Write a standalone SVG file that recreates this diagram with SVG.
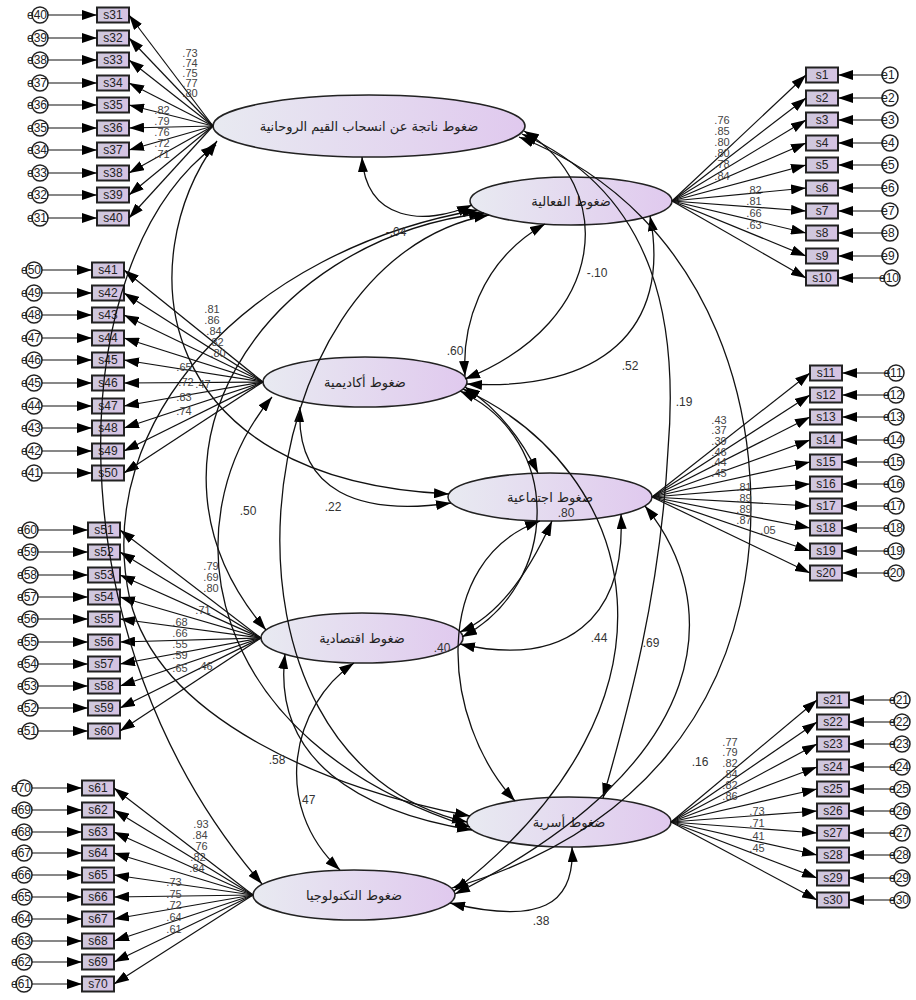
<svg xmlns="http://www.w3.org/2000/svg" width="916" height="1000" viewBox="0 0 916 1000">
<defs>
<linearGradient id="eg" x1="0" y1="0" x2="1" y2="0"><stop offset="0" stop-color="#e8eaf1"/><stop offset="1" stop-color="#e0c9ee"/></linearGradient>
<linearGradient id="bg" x1="0" y1="0" x2="1" y2="0"><stop offset="0" stop-color="#cfc8dc"/><stop offset="1" stop-color="#d6c3e4"/></linearGradient>
<marker id="ah" viewBox="0 0 15 10" refX="15" refY="5" markerWidth="15" markerHeight="10" markerUnits="userSpaceOnUse" orient="auto-start-reverse"><path d="M0,0 L15,5 L0,10 z" fill="#000"/></marker>
<style>
.ln{stroke:#111;stroke-width:1.2;fill:none;marker-end:url(#ah)}
.cv{stroke:#111;stroke-width:1.3;fill:none;marker-start:url(#ah);marker-end:url(#ah)}
.bx{fill:url(#bg);stroke:#222;stroke-width:2}
.bt{font-family:"Liberation Sans",Arial,sans-serif;font-size:12px;fill:#222;text-anchor:middle}
.er{fill:#fff;stroke:#222;stroke-width:1.5}
.et{font-family:"Liberation Sans",Arial,sans-serif;font-size:12px;fill:#222;text-anchor:middle}
.ll{font-family:"Liberation Sans",Arial,sans-serif;font-size:11px;fill:#444;text-anchor:middle;direction:ltr}
.cl{font-family:"Liberation Sans",Arial,sans-serif;font-size:12px;fill:#333;text-anchor:middle;direction:ltr;unicode-bidi:embed}
.lv{fill:url(#eg);stroke:#222;stroke-width:1.6}
.lt{font-family:"DejaVu Sans",sans-serif;font-size:13px;fill:#222;text-anchor:middle}
</style>
</defs>
<rect width="916" height="1000" fill="#fff"/>

<g id="L1"><ellipse class="lv" cx="369" cy="126" rx="156" ry="31"/><text class="lt" x="369" y="131">ضغوط ناتجة عن انسحاب القيم الروحانية</text></g>
<g id="L2"><ellipse class="lv" cx="571" cy="201" rx="101" ry="24"/><text class="lt" x="571" y="206">ضغوط الفعالية</text></g>
<g id="L3"><ellipse class="lv" cx="365" cy="382" rx="102" ry="25"/><text class="lt" x="365" y="387">ضغوط أكاديمية</text></g>
<g id="L4"><ellipse class="lv" cx="550" cy="497" rx="102" ry="24"/><text class="lt" x="550" y="502">ضغوط اجتماعية</text></g>
<g id="L5"><ellipse class="lv" cx="362" cy="638" rx="101" ry="25"/><text class="lt" x="362" y="643">ضغوط اقتصادية</text></g>
<g id="L6"><ellipse class="lv" cx="569" cy="822" rx="102" ry="25"/><text class="lt" x="569" y="827">ضغوط أسرية</text></g>
<g id="L7"><ellipse class="lv" cx="354" cy="895" rx="101" ry="25"/><text class="lt" x="354" y="900">ضغوط التكنولوجيا</text></g>

<g id="boxes-left">
<g id="s31"><rect class="bx" x="97" y="7.5" width="32" height="15"/><text class="bt" x="113" y="19">s31</text></g>
<g id="s32"><rect class="bx" x="97" y="30.5" width="32" height="15"/><text class="bt" x="113" y="42">s32</text></g>
<g id="s33"><rect class="bx" x="97" y="52.5" width="32" height="15"/><text class="bt" x="113" y="64">s33</text></g>
<g id="s34"><rect class="bx" x="97" y="75.5" width="32" height="15"/><text class="bt" x="113" y="87">s34</text></g>
<g id="s35"><rect class="bx" x="97" y="97.5" width="32" height="15"/><text class="bt" x="113" y="109">s35</text></g>
<g id="s36"><rect class="bx" x="97" y="120.5" width="32" height="15"/><text class="bt" x="113" y="132">s36</text></g>
<g id="s37"><rect class="bx" x="97" y="142.5" width="32" height="15"/><text class="bt" x="113" y="154">s37</text></g>
<g id="s38"><rect class="bx" x="97" y="165.5" width="32" height="15"/><text class="bt" x="113" y="177">s38</text></g>
<g id="s39"><rect class="bx" x="97" y="187.5" width="32" height="15"/><text class="bt" x="113" y="199">s39</text></g>
<g id="s40"><rect class="bx" x="97" y="210.5" width="32" height="15"/><text class="bt" x="113" y="222">s40</text></g>

<g id="s41"><rect class="bx" x="92" y="262.5" width="32" height="15"/><text class="bt" x="108" y="274">s41</text></g>
<g id="s42"><rect class="bx" x="92" y="285.5" width="32" height="15"/><text class="bt" x="108" y="297">s42</text></g>
<g id="s43"><rect class="bx" x="92" y="307.5" width="32" height="15"/><text class="bt" x="108" y="319">s43</text></g>
<g id="s44"><rect class="bx" x="92" y="330.5" width="32" height="15"/><text class="bt" x="108" y="342">s44</text></g>
<g id="s45"><rect class="bx" x="92" y="352.5" width="32" height="15"/><text class="bt" x="108" y="364">s45</text></g>
<g id="s46"><rect class="bx" x="92" y="375.5" width="32" height="15"/><text class="bt" x="108" y="387">s46</text></g>
<g id="s47"><rect class="bx" x="92" y="398.5" width="32" height="15"/><text class="bt" x="108" y="410">s47</text></g>
<g id="s48"><rect class="bx" x="92" y="420.5" width="32" height="15"/><text class="bt" x="108" y="432">s48</text></g>
<g id="s49"><rect class="bx" x="92" y="443.5" width="32" height="15"/><text class="bt" x="108" y="455">s49</text></g>
<g id="s50"><rect class="bx" x="92" y="465.5" width="32" height="15"/><text class="bt" x="108" y="477">s50</text></g>

<g id="s51"><rect class="bx" x="88" y="522.5" width="32" height="15"/><text class="bt" x="104" y="534">s51</text></g>
<g id="s52"><rect class="bx" x="88" y="544.5" width="32" height="15"/><text class="bt" x="104" y="556">s52</text></g>
<g id="s53"><rect class="bx" x="88" y="567.5" width="32" height="15"/><text class="bt" x="104" y="579">s53</text></g>
<g id="s54"><rect class="bx" x="88" y="589.5" width="32" height="15"/><text class="bt" x="104" y="601">s54</text></g>
<g id="s55"><rect class="bx" x="88" y="611.5" width="32" height="15"/><text class="bt" x="104" y="623">s55</text></g>
<g id="s56"><rect class="bx" x="88" y="634.5" width="32" height="15"/><text class="bt" x="104" y="646">s56</text></g>
<g id="s57"><rect class="bx" x="88" y="656.5" width="32" height="15"/><text class="bt" x="104" y="668">s57</text></g>
<g id="s58"><rect class="bx" x="88" y="678.5" width="32" height="15"/><text class="bt" x="104" y="690">s58</text></g>
<g id="s59"><rect class="bx" x="88" y="700.5" width="32" height="15"/><text class="bt" x="104" y="712">s59</text></g>
<g id="s60"><rect class="bx" x="88" y="723.5" width="32" height="15"/><text class="bt" x="104" y="735">s60</text></g>

<g id="s61"><rect class="bx" x="82" y="780.5" width="32" height="15"/><text class="bt" x="98" y="792">s61</text></g>
<g id="s62"><rect class="bx" x="82" y="802.5" width="32" height="15"/><text class="bt" x="98" y="814">s62</text></g>
<g id="s63"><rect class="bx" x="82" y="824.5" width="32" height="15"/><text class="bt" x="98" y="836">s63</text></g>
<g id="s64"><rect class="bx" x="82" y="845.5" width="32" height="15"/><text class="bt" x="98" y="857">s64</text></g>
<g id="s65"><rect class="bx" x="82" y="867.5" width="32" height="15"/><text class="bt" x="98" y="879">s65</text></g>
<g id="s66"><rect class="bx" x="82" y="889.5" width="32" height="15"/><text class="bt" x="98" y="901">s66</text></g>
<g id="s67"><rect class="bx" x="82" y="911.5" width="32" height="15"/><text class="bt" x="98" y="923">s67</text></g>
<g id="s68"><rect class="bx" x="82" y="933.5" width="32" height="15"/><text class="bt" x="98" y="945">s68</text></g>
<g id="s69"><rect class="bx" x="82" y="954.5" width="32" height="15"/><text class="bt" x="98" y="966">s69</text></g>
<g id="s70"><rect class="bx" x="82" y="976.5" width="32" height="15"/><text class="bt" x="98" y="988">s70</text></g>
</g>

<g id="boxes-right">
<g id="s1"><rect class="bx" x="806" y="67.5" width="32" height="15"/><text class="bt" x="822" y="79">s1</text></g>
<g id="s2"><rect class="bx" x="806" y="90.5" width="32" height="15"/><text class="bt" x="822" y="102">s2</text></g>
<g id="s3"><rect class="bx" x="806" y="112.5" width="32" height="15"/><text class="bt" x="822" y="124">s3</text></g>
<g id="s4"><rect class="bx" x="806" y="135.5" width="32" height="15"/><text class="bt" x="822" y="147">s4</text></g>
<g id="s5"><rect class="bx" x="806" y="157.5" width="32" height="15"/><text class="bt" x="822" y="169">s5</text></g>
<g id="s6"><rect class="bx" x="806" y="180.5" width="32" height="15"/><text class="bt" x="822" y="192">s6</text></g>
<g id="s7"><rect class="bx" x="806" y="203.5" width="32" height="15"/><text class="bt" x="822" y="215">s7</text></g>
<g id="s8"><rect class="bx" x="806" y="225.5" width="32" height="15"/><text class="bt" x="822" y="237">s8</text></g>
<g id="s9"><rect class="bx" x="806" y="248.5" width="32" height="15"/><text class="bt" x="822" y="260">s9</text></g>
<g id="s10"><rect class="bx" x="806" y="270.5" width="32" height="15"/><text class="bt" x="822" y="282">s10</text></g>

<g id="s11"><rect class="bx" x="810" y="365.5" width="32" height="15"/><text class="bt" x="826" y="377">s11</text></g>
<g id="s12"><rect class="bx" x="810" y="387.5" width="32" height="15"/><text class="bt" x="826" y="399">s12</text></g>
<g id="s13"><rect class="bx" x="810" y="409.5" width="32" height="15"/><text class="bt" x="826" y="421">s13</text></g>
<g id="s14"><rect class="bx" x="810" y="432.5" width="32" height="15"/><text class="bt" x="826" y="444">s14</text></g>
<g id="s15"><rect class="bx" x="810" y="454.5" width="32" height="15"/><text class="bt" x="826" y="466">s15</text></g>
<g id="s16"><rect class="bx" x="810" y="476.5" width="32" height="15"/><text class="bt" x="826" y="488">s16</text></g>
<g id="s17"><rect class="bx" x="810" y="498.5" width="32" height="15"/><text class="bt" x="826" y="510">s17</text></g>
<g id="s18"><rect class="bx" x="810" y="520.5" width="32" height="15"/><text class="bt" x="826" y="532">s18</text></g>
<g id="s19"><rect class="bx" x="810" y="543.5" width="32" height="15"/><text class="bt" x="826" y="555">s19</text></g>
<g id="s20"><rect class="bx" x="810" y="565.5" width="32" height="15"/><text class="bt" x="826" y="577">s20</text></g>

<g id="s21"><rect class="bx" x="817" y="692.5" width="32" height="15"/><text class="bt" x="833" y="704">s21</text></g>
<g id="s22"><rect class="bx" x="817" y="714.5" width="32" height="15"/><text class="bt" x="833" y="726">s22</text></g>
<g id="s23"><rect class="bx" x="817" y="736.5" width="32" height="15"/><text class="bt" x="833" y="748">s23</text></g>
<g id="s24"><rect class="bx" x="817" y="759.5" width="32" height="15"/><text class="bt" x="833" y="771">s24</text></g>
<g id="s25"><rect class="bx" x="817" y="781.5" width="32" height="15"/><text class="bt" x="833" y="793">s25</text></g>
<g id="s26"><rect class="bx" x="817" y="803.5" width="32" height="15"/><text class="bt" x="833" y="815">s26</text></g>
<g id="s27"><rect class="bx" x="817" y="825.5" width="32" height="15"/><text class="bt" x="833" y="837">s27</text></g>
<g id="s28"><rect class="bx" x="817" y="847.5" width="32" height="15"/><text class="bt" x="833" y="859">s28</text></g>
<g id="s29"><rect class="bx" x="817" y="870.5" width="32" height="15"/><text class="bt" x="833" y="882">s29</text></g>
<g id="s30"><rect class="bx" x="817" y="892.5" width="32" height="15"/><text class="bt" x="833" y="904">s30</text></g>
</g>

<g id="errors">
<g><circle class="er" cx="40" cy="15" r="8"/><text class="et" x="37" y="19">e40</text></g>
<g><circle class="er" cx="40" cy="38" r="8"/><text class="et" x="37" y="42">e39</text></g>
<g><circle class="er" cx="40" cy="60" r="8"/><text class="et" x="37" y="64">e38</text></g>
<g><circle class="er" cx="40" cy="83" r="8"/><text class="et" x="37" y="87">e37</text></g>
<g><circle class="er" cx="40" cy="105" r="8"/><text class="et" x="37" y="109">e36</text></g>
<g><circle class="er" cx="40" cy="128" r="8"/><text class="et" x="37" y="132">e35</text></g>
<g><circle class="er" cx="40" cy="150" r="8"/><text class="et" x="37" y="154">e34</text></g>
<g><circle class="er" cx="40" cy="173" r="8"/><text class="et" x="37" y="177">e33</text></g>
<g><circle class="er" cx="40" cy="195" r="8"/><text class="et" x="37" y="199">e32</text></g>
<g><circle class="er" cx="40" cy="218" r="8"/><text class="et" x="37" y="222">e31</text></g>

<g><circle class="er" cx="34" cy="270" r="8"/><text class="et" x="31" y="274">e50</text></g>
<g><circle class="er" cx="34" cy="293" r="8"/><text class="et" x="31" y="297">e49</text></g>
<g><circle class="er" cx="34" cy="315" r="8"/><text class="et" x="31" y="319">e48</text></g>
<g><circle class="er" cx="34" cy="338" r="8"/><text class="et" x="31" y="342">e47</text></g>
<g><circle class="er" cx="34" cy="360" r="8"/><text class="et" x="31" y="364">e46</text></g>
<g><circle class="er" cx="34" cy="383" r="8"/><text class="et" x="31" y="387">e45</text></g>
<g><circle class="er" cx="34" cy="406" r="8"/><text class="et" x="31" y="410">e44</text></g>
<g><circle class="er" cx="34" cy="428" r="8"/><text class="et" x="31" y="432">e43</text></g>
<g><circle class="er" cx="34" cy="451" r="8"/><text class="et" x="31" y="455">e42</text></g>
<g><circle class="er" cx="34" cy="473" r="8"/><text class="et" x="31" y="477">e41</text></g>

<g><circle class="er" cx="30" cy="530" r="8"/><text class="et" x="27" y="534">e60</text></g>
<g><circle class="er" cx="30" cy="552" r="8"/><text class="et" x="27" y="556">e59</text></g>
<g><circle class="er" cx="30" cy="575" r="8"/><text class="et" x="27" y="579">e58</text></g>
<g><circle class="er" cx="30" cy="597" r="8"/><text class="et" x="27" y="601">e57</text></g>
<g><circle class="er" cx="30" cy="619" r="8"/><text class="et" x="27" y="623">e56</text></g>
<g><circle class="er" cx="30" cy="642" r="8"/><text class="et" x="27" y="646">e55</text></g>
<g><circle class="er" cx="30" cy="664" r="8"/><text class="et" x="27" y="668">e54</text></g>
<g><circle class="er" cx="30" cy="686" r="8"/><text class="et" x="27" y="690">e53</text></g>
<g><circle class="er" cx="30" cy="708" r="8"/><text class="et" x="27" y="712">e52</text></g>
<g><circle class="er" cx="30" cy="731" r="8"/><text class="et" x="27" y="735">e51</text></g>

<g><circle class="er" cx="24" cy="788" r="8"/><text class="et" x="21" y="792">e70</text></g>
<g><circle class="er" cx="24" cy="810" r="8"/><text class="et" x="21" y="814">e69</text></g>
<g><circle class="er" cx="24" cy="832" r="8"/><text class="et" x="21" y="836">e68</text></g>
<g><circle class="er" cx="24" cy="853" r="8"/><text class="et" x="21" y="857">e67</text></g>
<g><circle class="er" cx="24" cy="875" r="8"/><text class="et" x="21" y="879">e66</text></g>
<g><circle class="er" cx="24" cy="897" r="8"/><text class="et" x="21" y="901">e65</text></g>
<g><circle class="er" cx="24" cy="919" r="8"/><text class="et" x="21" y="923">e64</text></g>
<g><circle class="er" cx="24" cy="941" r="8"/><text class="et" x="21" y="945">e63</text></g>
<g><circle class="er" cx="24" cy="962" r="8"/><text class="et" x="21" y="966">e62</text></g>
<g><circle class="er" cx="24" cy="984" r="8"/><text class="et" x="21" y="988">e61</text></g>

<g><circle class="er" cx="890" cy="75" r="8"/><text class="et" x="888" y="79">e1</text></g>
<g><circle class="er" cx="890" cy="98" r="8"/><text class="et" x="888" y="102">e2</text></g>
<g><circle class="er" cx="890" cy="120" r="8"/><text class="et" x="888" y="124">e3</text></g>
<g><circle class="er" cx="890" cy="143" r="8"/><text class="et" x="888" y="147">e4</text></g>
<g><circle class="er" cx="890" cy="165" r="8"/><text class="et" x="888" y="169">e5</text></g>
<g><circle class="er" cx="890" cy="188" r="8"/><text class="et" x="888" y="192">e6</text></g>
<g><circle class="er" cx="890" cy="211" r="8"/><text class="et" x="888" y="215">e7</text></g>
<g><circle class="er" cx="890" cy="233" r="8"/><text class="et" x="888" y="237">e8</text></g>
<g><circle class="er" cx="890" cy="256" r="8"/><text class="et" x="888" y="260">e9</text></g>
<g><circle class="er" cx="892" cy="278" r="8"/><text class="et" x="889" y="282">e10</text></g>

<g><circle class="er" cx="896" cy="373" r="8"/><text class="et" x="893" y="377">e11</text></g>
<g><circle class="er" cx="896" cy="395" r="8"/><text class="et" x="893" y="399">e12</text></g>
<g><circle class="er" cx="896" cy="417" r="8"/><text class="et" x="893" y="421">e13</text></g>
<g><circle class="er" cx="896" cy="440" r="8"/><text class="et" x="893" y="444">e14</text></g>
<g><circle class="er" cx="896" cy="462" r="8"/><text class="et" x="893" y="466">e15</text></g>
<g><circle class="er" cx="896" cy="484" r="8"/><text class="et" x="893" y="488">e16</text></g>
<g><circle class="er" cx="896" cy="506" r="8"/><text class="et" x="893" y="510">e17</text></g>
<g><circle class="er" cx="896" cy="528" r="8"/><text class="et" x="893" y="532">e18</text></g>
<g><circle class="er" cx="896" cy="551" r="8"/><text class="et" x="893" y="555">e19</text></g>
<g><circle class="er" cx="896" cy="573" r="8"/><text class="et" x="893" y="577">e20</text></g>

<g><circle class="er" cx="902" cy="700" r="8"/><text class="et" x="899" y="704">e21</text></g>
<g><circle class="er" cx="902" cy="722" r="8"/><text class="et" x="899" y="726">e22</text></g>
<g><circle class="er" cx="902" cy="744" r="8"/><text class="et" x="899" y="748">e23</text></g>
<g><circle class="er" cx="902" cy="767" r="8"/><text class="et" x="899" y="771">e24</text></g>
<g><circle class="er" cx="902" cy="789" r="8"/><text class="et" x="899" y="793">e25</text></g>
<g><circle class="er" cx="902" cy="811" r="8"/><text class="et" x="899" y="815">e26</text></g>
<g><circle class="er" cx="902" cy="833" r="8"/><text class="et" x="899" y="837">e27</text></g>
<g><circle class="er" cx="902" cy="855" r="8"/><text class="et" x="899" y="859">e28</text></g>
<g><circle class="er" cx="902" cy="878" r="8"/><text class="et" x="899" y="882">e29</text></g>
<g><circle class="er" cx="902" cy="900" r="8"/><text class="et" x="899" y="904">e30</text></g>
</g>

<g id="connectors">
<g id="loadings">
<line class="ln" x1="213" y1="126" x2="129" y2="15"/><line class="ln" x1="213" y1="126" x2="129" y2="38"/><line class="ln" x1="213" y1="126" x2="129" y2="60"/><line class="ln" x1="213" y1="126" x2="129" y2="83"/><line class="ln" x1="213" y1="126" x2="129" y2="105"/><line class="ln" x1="213" y1="126" x2="129" y2="128"/><line class="ln" x1="213" y1="126" x2="129" y2="150"/><line class="ln" x1="213" y1="126" x2="129" y2="173"/><line class="ln" x1="213" y1="126" x2="129" y2="195"/><line class="ln" x1="213" y1="126" x2="129" y2="218"/>
<line class="ln" x1="263" y1="382" x2="124" y2="270"/><line class="ln" x1="263" y1="382" x2="124" y2="293"/><line class="ln" x1="263" y1="382" x2="124" y2="315"/><line class="ln" x1="263" y1="382" x2="124" y2="338"/><line class="ln" x1="263" y1="382" x2="124" y2="360"/><line class="ln" x1="263" y1="382" x2="124" y2="383"/><line class="ln" x1="263" y1="382" x2="124" y2="406"/><line class="ln" x1="263" y1="382" x2="124" y2="428"/><line class="ln" x1="263" y1="382" x2="124" y2="451"/><line class="ln" x1="263" y1="382" x2="124" y2="473"/>
<line class="ln" x1="261" y1="638" x2="120" y2="530"/><line class="ln" x1="261" y1="638" x2="120" y2="552"/><line class="ln" x1="261" y1="638" x2="120" y2="575"/><line class="ln" x1="261" y1="638" x2="120" y2="597"/><line class="ln" x1="261" y1="638" x2="120" y2="619"/><line class="ln" x1="261" y1="638" x2="120" y2="642"/><line class="ln" x1="261" y1="638" x2="120" y2="664"/><line class="ln" x1="261" y1="638" x2="120" y2="686"/><line class="ln" x1="261" y1="638" x2="120" y2="708"/><line class="ln" x1="261" y1="638" x2="120" y2="731"/>
<line class="ln" x1="253" y1="895" x2="114" y2="788"/><line class="ln" x1="253" y1="895" x2="114" y2="810"/><line class="ln" x1="253" y1="895" x2="114" y2="832"/><line class="ln" x1="253" y1="895" x2="114" y2="853"/><line class="ln" x1="253" y1="895" x2="114" y2="875"/><line class="ln" x1="253" y1="895" x2="114" y2="897"/><line class="ln" x1="253" y1="895" x2="114" y2="919"/><line class="ln" x1="253" y1="895" x2="114" y2="941"/><line class="ln" x1="253" y1="895" x2="114" y2="962"/><line class="ln" x1="253" y1="895" x2="114" y2="984"/>
<line class="ln" x1="672" y1="201" x2="806" y2="75"/><line class="ln" x1="672" y1="201" x2="806" y2="98"/><line class="ln" x1="672" y1="201" x2="806" y2="120"/><line class="ln" x1="672" y1="201" x2="806" y2="143"/><line class="ln" x1="672" y1="201" x2="806" y2="165"/><line class="ln" x1="672" y1="201" x2="806" y2="188"/><line class="ln" x1="672" y1="201" x2="806" y2="211"/><line class="ln" x1="672" y1="201" x2="806" y2="233"/><line class="ln" x1="672" y1="201" x2="806" y2="256"/><line class="ln" x1="672" y1="201" x2="806" y2="278"/>
<line class="ln" x1="652" y1="497" x2="810" y2="373"/><line class="ln" x1="652" y1="497" x2="810" y2="395"/><line class="ln" x1="652" y1="497" x2="810" y2="417"/><line class="ln" x1="652" y1="497" x2="810" y2="440"/><line class="ln" x1="652" y1="497" x2="810" y2="462"/><line class="ln" x1="652" y1="497" x2="810" y2="484"/><line class="ln" x1="652" y1="497" x2="810" y2="506"/><line class="ln" x1="652" y1="497" x2="810" y2="528"/><line class="ln" x1="652" y1="497" x2="810" y2="551"/><line class="ln" x1="652" y1="497" x2="810" y2="573"/>
<line class="ln" x1="671" y1="822" x2="817" y2="700"/><line class="ln" x1="671" y1="822" x2="817" y2="722"/><line class="ln" x1="671" y1="822" x2="817" y2="744"/><line class="ln" x1="671" y1="822" x2="817" y2="767"/><line class="ln" x1="671" y1="822" x2="817" y2="789"/><line class="ln" x1="671" y1="822" x2="817" y2="811"/><line class="ln" x1="671" y1="822" x2="817" y2="833"/><line class="ln" x1="671" y1="822" x2="817" y2="855"/><line class="ln" x1="671" y1="822" x2="817" y2="878"/><line class="ln" x1="671" y1="822" x2="817" y2="900"/>
</g>
<g id="error-arrows">
<line class="ln" x1="48" y1="15" x2="97" y2="15"/><line class="ln" x1="48" y1="38" x2="97" y2="38"/><line class="ln" x1="48" y1="60" x2="97" y2="60"/><line class="ln" x1="48" y1="83" x2="97" y2="83"/><line class="ln" x1="48" y1="105" x2="97" y2="105"/><line class="ln" x1="48" y1="128" x2="97" y2="128"/><line class="ln" x1="48" y1="150" x2="97" y2="150"/><line class="ln" x1="48" y1="173" x2="97" y2="173"/><line class="ln" x1="48" y1="195" x2="97" y2="195"/><line class="ln" x1="48" y1="218" x2="97" y2="218"/>
<line class="ln" x1="42" y1="270" x2="92" y2="270"/><line class="ln" x1="42" y1="293" x2="92" y2="293"/><line class="ln" x1="42" y1="315" x2="92" y2="315"/><line class="ln" x1="42" y1="338" x2="92" y2="338"/><line class="ln" x1="42" y1="360" x2="92" y2="360"/><line class="ln" x1="42" y1="383" x2="92" y2="383"/><line class="ln" x1="42" y1="406" x2="92" y2="406"/><line class="ln" x1="42" y1="428" x2="92" y2="428"/><line class="ln" x1="42" y1="451" x2="92" y2="451"/><line class="ln" x1="42" y1="473" x2="92" y2="473"/>
<line class="ln" x1="38" y1="530" x2="88" y2="530"/><line class="ln" x1="38" y1="552" x2="88" y2="552"/><line class="ln" x1="38" y1="575" x2="88" y2="575"/><line class="ln" x1="38" y1="597" x2="88" y2="597"/><line class="ln" x1="38" y1="619" x2="88" y2="619"/><line class="ln" x1="38" y1="642" x2="88" y2="642"/><line class="ln" x1="38" y1="664" x2="88" y2="664"/><line class="ln" x1="38" y1="686" x2="88" y2="686"/><line class="ln" x1="38" y1="708" x2="88" y2="708"/><line class="ln" x1="38" y1="731" x2="88" y2="731"/>
<line class="ln" x1="32" y1="788" x2="82" y2="788"/><line class="ln" x1="32" y1="810" x2="82" y2="810"/><line class="ln" x1="32" y1="832" x2="82" y2="832"/><line class="ln" x1="32" y1="853" x2="82" y2="853"/><line class="ln" x1="32" y1="875" x2="82" y2="875"/><line class="ln" x1="32" y1="897" x2="82" y2="897"/><line class="ln" x1="32" y1="919" x2="82" y2="919"/><line class="ln" x1="32" y1="941" x2="82" y2="941"/><line class="ln" x1="32" y1="962" x2="82" y2="962"/><line class="ln" x1="32" y1="984" x2="82" y2="984"/>
<line class="ln" x1="882" y1="75" x2="838" y2="75"/><line class="ln" x1="882" y1="98" x2="838" y2="98"/><line class="ln" x1="882" y1="120" x2="838" y2="120"/><line class="ln" x1="882" y1="143" x2="838" y2="143"/><line class="ln" x1="882" y1="165" x2="838" y2="165"/><line class="ln" x1="882" y1="188" x2="838" y2="188"/><line class="ln" x1="882" y1="211" x2="838" y2="211"/><line class="ln" x1="882" y1="233" x2="838" y2="233"/><line class="ln" x1="882" y1="256" x2="838" y2="256"/><line class="ln" x1="884" y1="278" x2="838" y2="278"/>
<line class="ln" x1="888" y1="373" x2="842" y2="373"/><line class="ln" x1="888" y1="395" x2="842" y2="395"/><line class="ln" x1="888" y1="417" x2="842" y2="417"/><line class="ln" x1="888" y1="440" x2="842" y2="440"/><line class="ln" x1="888" y1="462" x2="842" y2="462"/><line class="ln" x1="888" y1="484" x2="842" y2="484"/><line class="ln" x1="888" y1="506" x2="842" y2="506"/><line class="ln" x1="888" y1="528" x2="842" y2="528"/><line class="ln" x1="888" y1="551" x2="842" y2="551"/><line class="ln" x1="888" y1="573" x2="842" y2="573"/>
<line class="ln" x1="894" y1="700" x2="849" y2="700"/><line class="ln" x1="894" y1="722" x2="849" y2="722"/><line class="ln" x1="894" y1="744" x2="849" y2="744"/><line class="ln" x1="894" y1="767" x2="849" y2="767"/><line class="ln" x1="894" y1="789" x2="849" y2="789"/><line class="ln" x1="894" y1="811" x2="849" y2="811"/><line class="ln" x1="894" y1="833" x2="849" y2="833"/><line class="ln" x1="894" y1="855" x2="849" y2="855"/><line class="ln" x1="894" y1="878" x2="849" y2="878"/><line class="ln" x1="894" y1="900" x2="849" y2="900"/>
</g>
<g id="covariances">
<path class="cv" d="M362 157C366 222 425 226 472 205"/>
<path class="cv" d="M524 131C615 185 612 320 465 379"/>
<path class="cv" d="M545 224C478 262 462 330 465 376"/>
<path class="cv" d="M650 216C672 330 600 392 467 384"/>
<path class="cv" d="M522 134C660 195 678 330 668 450C660 600 625 720 603 798"/>
<path class="cv" d="M519 137C720 215 770 430 745 580C725 700 650 830 452 888"/>
<path class="cv" d="M645 506C722 600 722 760 455 894"/>
<path class="cv" d="M460 644C565 668 626 620 621 514"/>
<path class="cv" d="M540 521C430 560 440 720 515 801"/>
<path class="cv" d="M552 521C530 570 500 615 460 632"/>
<path class="cv" d="M465 387C500 410 522 440 538 473"/>
<path class="cv" d="M463 389C640 470 700 700 454 891"/>
<path class="cv" d="M300 407C295 492 360 516 451 503"/>
<path class="cv" d="M217 141C130 260 150 480 449 494"/>
<path class="cv" d="M216 145C60 260 50 640 262 884"/>
<path class="cv" d="M477 210C250 250 90 420 130 600C160 720 330 790 470 816"/>
<path class="cv" d="M489 215C240 260 190 760 467 822"/>
<path class="cv" d="M272 397C170 520 200 740 470 827"/>
<path class="cv" d="M285 654C272 760 360 812 472 830"/>
<path class="cv" d="M354 663C292 705 270 805 340 870"/>
<path class="cv" d="M572 847C575 905 540 925 450 903"/>
<path class="cv" d="M484 213C260 240 120 460 266 630"/>
<path class="cv" d="M460 391C565 440 560 585 462 637"/>
</g>
</g>

<g id="loading-labels">
<text class="ll" x="190" y="57">.73</text><text class="ll" x="190" y="67">.74</text><text class="ll" x="190" y="77">.75</text><text class="ll" x="190" y="87">.77</text><text class="ll" x="190" y="97">.80</text>
<text class="ll" x="162" y="114">.82</text><text class="ll" x="162" y="125">.79</text><text class="ll" x="162" y="136">.76</text><text class="ll" x="162" y="147">.72</text><text class="ll" x="162" y="158">.71</text>

<text class="ll" x="212" y="313">.81</text><text class="ll" x="212" y="324">.86</text><text class="ll" x="214" y="335">.84</text><text class="ll" x="216" y="346">.82</text><text class="ll" x="218" y="357">.80</text>
<text class="ll" x="184" y="371">.65</text><text class="ll" x="186" y="386">.72</text><text class="ll" x="203" y="388">.47</text><text class="ll" x="184" y="401">.83</text><text class="ll" x="184" y="415">.74</text>

<text class="ll" x="211" y="570">.79</text><text class="ll" x="211" y="581">.69</text><text class="ll" x="211" y="592">.80</text><text class="ll" x="203" y="614">.71</text>
<text class="ll" x="180" y="626">.68</text><text class="ll" x="180" y="637">.66</text><text class="ll" x="180" y="648">.55</text><text class="ll" x="180" y="659">.59</text><text class="ll" x="180" y="672">.65</text><text class="ll" x="205" y="670">.46</text>

<text class="ll" x="201" y="828">.93</text><text class="ll" x="200" y="839">.84</text><text class="ll" x="200" y="850">.76</text><text class="ll" x="198" y="861">.82</text><text class="ll" x="197" y="872">.84</text>
<text class="ll" x="174" y="886">.73</text><text class="ll" x="174" y="898">.75</text><text class="ll" x="174" y="909">.72</text><text class="ll" x="174" y="921">.64</text><text class="ll" x="174" y="933">.61</text>

<text class="ll" x="722" y="124">.76</text><text class="ll" x="722" y="135">.85</text><text class="ll" x="722" y="146">.80</text><text class="ll" x="722" y="157">.80</text><text class="ll" x="722" y="168">.78</text><text class="ll" x="722" y="180">.84</text>
<text class="ll" x="754" y="194">.82</text><text class="ll" x="754" y="205">.81</text><text class="ll" x="754" y="217">.66</text><text class="ll" x="754" y="229">.63</text>

<text class="ll" x="719" y="424">.43</text><text class="ll" x="719" y="434">.37</text><text class="ll" x="719" y="445">.39</text><text class="ll" x="719" y="456">.46</text><text class="ll" x="719" y="466">.44</text><text class="ll" x="719" y="477">.45</text>
<text class="ll" x="744" y="491">.81</text><text class="ll" x="744" y="502">.89</text><text class="ll" x="744" y="513">.89</text><text class="ll" x="744" y="524">.87</text><text class="ll" x="768" y="534">.05</text>

<text class="ll" x="730" y="746">.77</text><text class="ll" x="730" y="756">.79</text><text class="ll" x="730" y="767">.82</text><text class="ll" x="730" y="778">.84</text><text class="ll" x="730" y="789">.82</text><text class="ll" x="730" y="800">.86</text>
<text class="ll" x="757" y="815">.73</text><text class="ll" x="757" y="827">.71</text><text class="ll" x="757" y="840">.41</text><text class="ll" x="757" y="852">.45</text>
</g>

<g id="covariance-labels">
<text class="cl" x="396" y="236">-.04</text>
<text class="cl" x="597" y="277">-.10</text>
<text class="cl" x="455" y="355">.60</text>
<text class="cl" x="630" y="370">.52</text>
<text class="cl" x="684" y="406">.19</text>
<text class="cl" x="333" y="511">.22</text>
<text class="cl" x="248" y="515">.50</text>
<text class="cl" x="566" y="517">.80</text>
<text class="cl" x="442" y="652">.40</text>
<text class="cl" x="599" y="642">.44</text>
<text class="cl" x="651" y="647">.69</text>
<text class="cl" x="277" y="764">.58</text>
<text class="cl" x="307" y="804">.47</text>
<text class="cl" x="700" y="766">.16</text>
<text class="cl" x="541" y="925">.38</text>
</g>
</svg>
